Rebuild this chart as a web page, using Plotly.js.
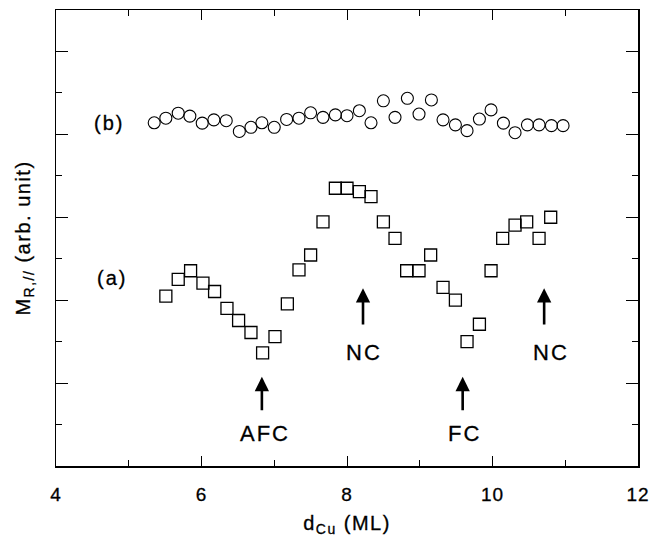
<!DOCTYPE html>
<html>
<head>
<meta charset="utf-8">
<script src="https://cdn.plot.ly/plotly-3.0.1.min.js"></script>
<style>
html, body { margin: 0; padding: 0; background: #fff; }
#chart { width: 649px; height: 537px; }
#chart .annotation-text { letter-spacing: 2px; }
#chart .xtitle, #chart .ytitle { letter-spacing: 1.5px; }
#chart .xtick text { letter-spacing: 1px; }
#chart text { stroke: #000; stroke-width: 0.3px; }
</style>
</head>
<body>
<div id="chart"></div>
<script>
// Series (a): squares
const xA = [5.51, 5.68, 5.85, 6.02, 6.18, 6.35, 6.51, 6.68, 6.84, 7.01, 7.18, 7.34, 7.50, 7.67, 7.84, 8.00, 8.17, 8.33, 8.50, 8.66, 8.82, 8.99, 9.15, 9.32, 9.49, 9.65, 9.82, 9.98, 10.14, 10.31, 10.47, 10.64, 10.80];
const yA = [4.10, 4.50, 4.71, 4.41, 4.21, 3.80, 3.51, 3.22, 2.73, 3.12, 3.91, 4.73, 5.09, 5.89, 6.70, 6.70, 6.62, 6.50, 5.89, 5.49, 4.71, 4.71, 5.09, 4.31, 4.00, 3.00, 3.42, 4.71, 5.49, 5.81, 5.89, 5.49, 6.00];

// Series (b): circles
const xB = [5.35, 5.51, 5.68, 5.84, 6.01, 6.17, 6.34, 6.52, 6.68, 6.83, 7.00, 7.17, 7.34, 7.50, 7.67, 7.84, 8.00, 8.17, 8.33, 8.50, 8.66, 8.83, 8.99, 9.16, 9.32, 9.49, 9.65, 9.82, 9.98, 10.15, 10.31, 10.48, 10.64, 10.81, 10.97];
const yB = [8.28, 8.39, 8.51, 8.44, 8.27, 8.35, 8.33, 8.07, 8.17, 8.28, 8.17, 8.36, 8.39, 8.52, 8.41, 8.47, 8.45, 8.57, 8.28, 8.81, 8.41, 8.87, 8.49, 8.83, 8.35, 8.23, 8.09, 8.37, 8.59, 8.27, 8.04, 8.23, 8.23, 8.21, 8.21];

// Axis tick labels
const xTickVals = [4, 6, 8, 10, 12];
const xTickText = ["4", "6", "8", "10", "12"];

// Series labels
const seriesLabels = ["(a)", "(b)"];
const seriesLabelX = [4.77, 4.73];
const seriesLabelY = [4.53, 8.27];

// Arrow annotations
const arrowLabels = ["AFC", "NC", "FC", "NC"];
const arrowX = [6.83, 8.22, 9.59, 10.71];
const arrowTipY = [2.15, 4.29, 2.15, 4.29];
const arrowTailY = [1.31, 3.38, 1.31, 3.38];
const arrowLabelX = [6.87, 8.24, 9.62, 10.81];
const arrowLabelY = [0.79, 2.73, 0.79, 2.73];

const FONT = "Liberation Sans, Arial, Helvetica, sans-serif";

const traces = [
  {
    x: xA, y: yA, type: "scatter", mode: "markers", name: "(a)",
    marker: { symbol: "square-open", size: 12, color: "#000", line: { color: "#000", width: 1.3 } },
    showlegend: false
  },
  {
    x: xB, y: yB, type: "scatter", mode: "markers", name: "(b)",
    marker: { symbol: "circle-open", size: 12, color: "#000", line: { color: "#000", width: 1.1 } },
    showlegend: false
  }
];

const annotations = [];
seriesLabels.forEach((t, i) => {
  annotations.push({
    x: seriesLabelX[i], y: seriesLabelY[i], xref: "x", yref: "y",
    text: t, showarrow: false,
    font: { family: FONT, size: 20, color: "#000" }
  });
});
arrowLabels.forEach((t, i) => {
  annotations.push({
    x: arrowX[i], y: arrowTipY[i], xref: "x", yref: "y",
    ax: arrowX[i], ay: arrowTailY[i], axref: "x", ayref: "y",
    text: "", showarrow: true,
    arrowhead: 2, arrowsize: 1.1, arrowwidth: 2.6, arrowcolor: "#000"
  });
  annotations.push({
    x: arrowLabelX[i], y: arrowLabelY[i], xref: "x", yref: "y",
    text: t, showarrow: false,
    font: { family: FONT, size: 22, color: "#000" }
  });
});

const layout = {
  width: 649, height: 537,
  margin: { l: 56, r: 11, t: 10, b: 71 },
  paper_bgcolor: "#fff", plot_bgcolor: "#fff",
  font: { family: FONT, color: "#000" },
  xaxis: {
    range: [4, 12],
    tickvals: xTickVals, ticktext: xTickText,
    ticks: "inside", ticklen: 10, tickwidth: 1, tickcolor: "#000",
    minor: { dtick: 1, tick0: 0, ticks: "inside", ticklen: 6, tickwidth: 1, tickcolor: "#000" },
    showline: true, linecolor: "#000", linewidth: 1.5, mirror: "ticks",
    showgrid: false, zeroline: false,
    ticklabelstandoff: 11,
    tickfont: { family: FONT, size: 19, color: "#000" },
    title: { text: "d<sub>Cu</sub> (ML)", font: { family: FONT, size: 20, color: "#000" }, standoff: 14 }
  },
  yaxis: {
    range: [0, 11],
    tickmode: "linear", tick0: 0, dtick: 2,
    ticks: "inside", ticklen: 12, tickwidth: 1, tickcolor: "#000",
    minor: { dtick: 1, tick0: 0, ticks: "inside", ticklen: 6, tickwidth: 1, tickcolor: "#000" },
    showticklabels: false,
    showline: true, linecolor: "#000", linewidth: 1.5, mirror: "ticks",
    showgrid: false, zeroline: false,
    title: { text: "M<sub>R,//</sub> (arb. unit)", font: { family: FONT, size: 20, color: "#000" }, standoff: 18 }
  },
  annotations: annotations
};

Plotly.newPlot("chart", traces, layout, { displayModeBar: false, staticPlot: true });
</script>
</body>
</html>
